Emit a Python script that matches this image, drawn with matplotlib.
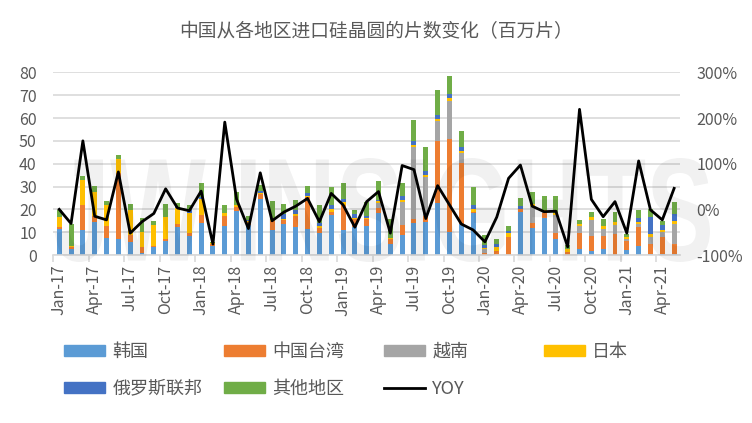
import numpy as np
import pandas as pd
import matplotlib
matplotlib.use("Agg")
from matplotlib import pyplot as plt
from matplotlib.patches import Patch, PathPatch
from matplotlib.lines import Line2D
from matplotlib.textpath import TextPath
from matplotlib.font_manager import FontProperties
from matplotlib.transforms import Affine2D, IdentityTransform

plt.rcParams['font.family'] = ['Noto Sans CJK SC', 'DejaVu Sans']

# monthly data, Jan-17 .. May-21 (million wafers)
months = pd.date_range("2017-01-01", periods=53, freq="MS").strftime("%b-%y").tolist()

korea = [11.2, 2.6, 10.9, 14.6, 7.6, 7.0, 5.8, 0.7, 3.4, 6.2, 12.4, 8.5,
         13.9, 4.0, 12.8, 19.3, 13.0, 24.5, 11.0, 13.7, 12.2, 11.3, 9.6, 17.5,
         11.0, 12.1, 12.8, 18.2, 4.8, 8.8, 14.2, 14.6, 22.6, 10.2, 13.4, 18.2,
         0.2, 0.0, 0.0, 19.0, 12.0, 16.4, 6.9, 0.0, 2.6, 1.8, 2.6, 0.0,
         2.4, 4.0, 0.4, 0.4, 0.6]
taiwan = [1.2, 0.8, 11.0, 2.5, 5.1, 29.0, 3.0, 2.9, 0.5, 0.9, 1.2, 1.3,
          3.6, 1.0, 4.4, 1.9, 1.5, 2.1, 3.9, 1.6, 4.9, 14.1, 2.4, 1.5,
          10.9, 3.6, 3.0, 2.6, 2.1, 4.3, 1.6, 2.6, 27.5, 40.5, 27.0, 0.8,
          0.5, 1.9, 8.0, 1.0, 2.1, 2.0, 2.9, 1.5, 6.9, 6.6, 5.8, 9.3,
          3.8, 8.2, 4.6, 7.4, 4.2]
vietnam = [0, 0, 0, 0, 0, 0, 0, 0, 0, 0, 0, 0,
           0, 0, 0, 0, 0, 0, 0, 0, 0, 0, 0, 0,
           0, 0, 0, 1.8, 0, 10.3, 31.6, 16.8, 8.7, 16.9, 4.4, 0,
           2.0, 0, 0, 0, 7.6, 0.3, 7.6, 0, 3.2, 7.0, 2.9, 3.9,
           1.0, 1.3, 2.7, 2.3, 8.8]
japan = [4.4, 0.5, 10.9, 10.6, 9.2, 6.0, 10.9, 6.6, 9.2, 9.7, 6.9, 8.7,
         7.0, 0.4, 1.0, 0.7, 0.4, 0.7, 0.4, 0.7, 0.8, 0.5, 0.7, 1.1,
         1.2, 0.4, 0.4, 1.0, 0.7, 0.7, 0.8, 1.0, 0.9, 1.3, 0.9, 1.0,
         0.6, 1.5, 1.5, 0.3, 0.6, 1.0, 0.8, 1.0, 0.9, 1.4, 1.5, 1.4,
         0.8, 1.0, 1.5, 0.8, 1.3]
russia = [0, 0, 0, 0, 0, 0, 0, 0, 0, 0, 0.6, 1.2,
          1.0, 0, 0, 0, 0.3, 0.9, 0, 1.9, 1.8, 1.4, 1.5, 1.8,
          1.4, 1.9, 1.0, 0.3, 0, 1.9, 1.9, 1.9, 1.6, 1.8, 1.7, 1.9,
          1.2, 1.5, 1.2, 1.2, 0, 0, 0.3, 0, 0, 0, 0, 0,
          0, 1.8, 7.6, 2.2, 3.1]
other = [2.9, 9.7, 1.8, 2.5, 1.9, 1.9, 2.6, 6.0, 1.9, 5.5, 1.8, 2.2,
         6.2, 0.5, 3.7, 5.8, 1.9, 2.5, 8.3, 4.4, 4.4, 2.9, 7.7, 7.9,
         7.2, 1.7, 6.2, 8.5, 8.1, 5.7, 9.0, 10.3, 11.0, 7.8, 6.9, 8.0,
         4.3, 2.1, 2.0, 3.3, 5.4, 6.1, 7.3, 1.9, 1.8, 2.2, 3.0, 4.4,
         1.2, 3.4, 3.2, 1.9, 5.1]
# year-on-year change, %
yoy = [0, -31, 150, -15, -23, 82, -52, -27, -9, 45, 3, -3,
       40, -76, 191, 22, -42, 80, -25, -6, 7, 24, -27, 35,
       10, -39, 17, 39, -52, 96, 87, -20, 52, 10, -32, -45,
       -71, -17, 68, 97, 7, -5, -4, -82, 219, 22, -16, 17,
       -52, 106, -1, -23, 46]

names = ["韩国", "中国台湾", "越南", "日本", "俄罗斯联邦", "其他地区"]
series = [korea, taiwan, vietnam, japan, russia, other]
colors = ["#5B9BD5", "#ED7D31", "#A5A5A5", "#FFC000", "#4472C4", "#70AD47"]
txt = "#595959"

fig = plt.figure(figsize=(7.52, 4.23), dpi=100)
ax = fig.add_axes([0.0709, 0.397, 0.8334, 0.432])
ax.set_facecolor("none")

x = np.arange(len(months))
bottom = np.zeros(len(months))
for vals, c in zip(series, colors):
    vals = np.array(vals)
    ax.bar(x, vals, width=0.42, bottom=bottom, color=c, zorder=2)
    bottom += vals

ax.set_xlim(-0.5, len(months) - 0.5)
ax.set_ylim(0, 80)
ax.set_yticks(range(0, 81, 10))
ax.set_axisbelow(True)
ax.yaxis.grid(True, color="#D9D9D9", lw=1.2)
for s in ["top", "left", "right"]:
    ax.spines[s].set_visible(False)
ax.spines["bottom"].set_color("#D9D9D9")
ax.spines["bottom"].set_linewidth(1.2)

# labels on categories, tick marks between them
ax.set_xticks(x[::3])
ax.set_xticklabels(months[::3], rotation=90)
ax.set_xticks(np.arange(-0.5, len(months), 3), minor=True)
ax.tick_params(axis="x", which="major", length=0, pad=7, labelsize=11.5, labelcolor=txt)
ax.tick_params(axis="x", which="minor", length=5, color="#D9D9D9", width=1.2)
ax.tick_params(axis="y", length=0, pad=12, labelsize=11.5, labelcolor=txt)

# YOY on right axis
ax2 = ax.twinx()
ax2.plot(x, np.array(yoy) / 100, color="black", lw=2, zorder=3)
ax2.set_ylim(-1, 3)
ax2.set_yticks([-1, 0, 1, 2, 3])
ax2.set_yticklabels([f"{v:.0f}%" for v in np.arange(-100, 301, 100)])
ax2.tick_params(axis="y", length=0, pad=12, labelsize=11.5, labelcolor=txt)
for s in ax2.spines.values():
    s.set_visible(False)

fig.text(0.5, 0.926, "中国从各地区进口硅晶圆的片数变化（百万片）", ha="center", va="center",
         fontsize=13.5, color=txt)

# legend laid out in 4 columns, 2 rows
handles = [Patch(color=c) for c in colors]
handles.append(Line2D([], [], color="black", lw=2))
labels = names + ["YOY"]
cols = [[0, 4], [1, 5], [2, 6], [3]]
for i, idx in enumerate(cols):
    leg = fig.legend([handles[k] for k in idx], [labels[k] for k in idx],
                     loc="upper left", bbox_to_anchor=((60 + 160 * i) / 752, 1 - 339 / 423),
                     frameon=False, fontsize=13, labelcolor=txt, handlelength=2.3,
                     handleheight=0.55, handletextpad=0.4, labelspacing=1.05,
                     borderaxespad=0, borderpad=0.2)

# faint watermark
tp = TextPath((0, 0), "JW INSIGHTS", size=100,
              prop=FontProperties(family="Liberation Sans", weight="bold"))
ext = tp.get_extents()
tr = Affine2D().translate(-ext.x0, -ext.y0).scale(655 / ext.width, 104 / ext.height).translate(55, 161)
wm = PathPatch(tr.transform_path(tp), fc=(0, 0, 0, 0.055), ec="none", zorder=10)
wm.set_transform(IdentityTransform())
fig.add_artist(wm)

fig.savefig("out.png", dpi=100)
